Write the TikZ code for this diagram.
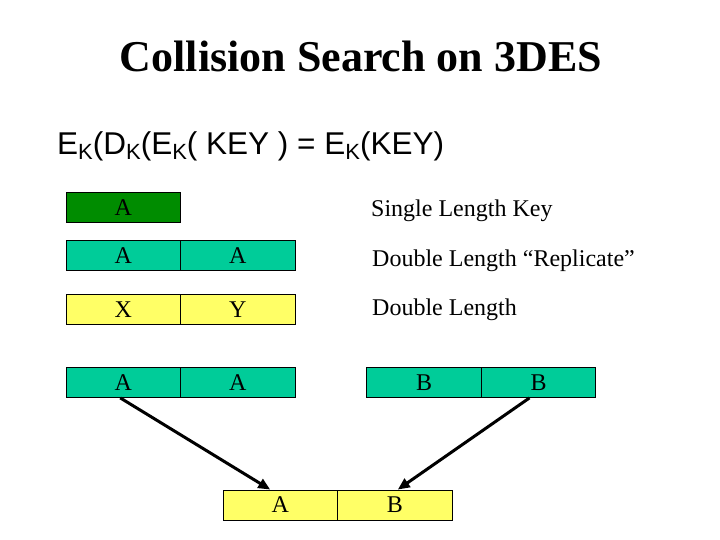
\documentclass[tikz,border=0pt]{standalone}
\usepackage{fontspec}
\setmainfont{Liberation Serif}
\newfontfamily\arialfont{Liberation Sans}
\usetikzlibrary{arrows.meta}
\definecolor{keygreen}{HTML}{008C00}
\definecolor{keyteal}{HTML}{00CC99}
\definecolor{keyyellow}{HTML}{FFFF66}
\newcommand{\ksub}{\raisebox{-5pt}{\fontsize{22}{22}\selectfont K}}

\begin{document}
\begin{tikzpicture}[x=1pt, y=-1pt,
    cell/.style={draw, line width=0.8pt, minimum width=114.5pt, minimum height=30pt,
      inner sep=0pt, font=\fontsize{24}{24}\selectfont},
    label/.style={anchor=base west, inner sep=0pt, font=\fontsize{24}{24}\selectfont},
    link/.style={line width=3pt, -{Triangle[length=12pt, width=10pt]}}]
      \useasboundingbox (0,0) rectangle (720,540);
      % Title and equation
      \node[anchor=base, font=\fontsize{44}{44}\selectfont\bfseries] (title) at (361,72) {Collision Search on 3DES};
      \node[anchor=base west, inner sep=0pt, font=\arialfont\fontsize{31.5}{31.5}\selectfont] (eqn) at (57,155)
        {E\ksub(D\ksub(E\ksub( KEY ) = E\ksub(KEY)};
      % Single, replicated and double keys
      \node[cell, fill=keygreen] (single) at (123.25,207.5) {A};
      \node[cell, fill=keyteal] (repA) at (123.25,255.5) {A};
      \node[cell, fill=keyteal] (repB) at (237.75,255.5) {A};
      \node[cell, fill=keyyellow] (dblX) at (123.25,309.5) {X};
      \node[cell, fill=keyyellow] (dblY) at (237.75,309.5) {Y};
      \node[label] (lsingle) at (371,216) {Single Length Key};
      \node[label] (lrep) at (372,266) {Double Length “Replicate”};
      \node[label] (ldbl) at (372,315) {Double Length};
      % Two replicated keys
      \node[cell, fill=keyteal] (leftA) at (123.25,382.5) {A};
      \node[cell, fill=keyteal] (leftA2) at (237.75,382.5) {A};
      \node[cell, fill=keyteal] (rightB) at (424,382.5) {B};
      \node[cell, fill=keyteal] (rightB2) at (538.5,382.5) {B};
      % Resulting key
      \node[cell, fill=keyyellow] (resA) at (280.25,505) {A};
      \node[cell, fill=keyyellow] (resB) at (394.75,505) {B};
      \draw[link] ([xshift=-3pt]leftA.south) -- ([xshift=-10pt]resA.north);
      \draw[link] ([xshift=-9pt]rightB2.south) -- ([xshift=3pt]resB.north);
    \end{tikzpicture}
\end{document}
